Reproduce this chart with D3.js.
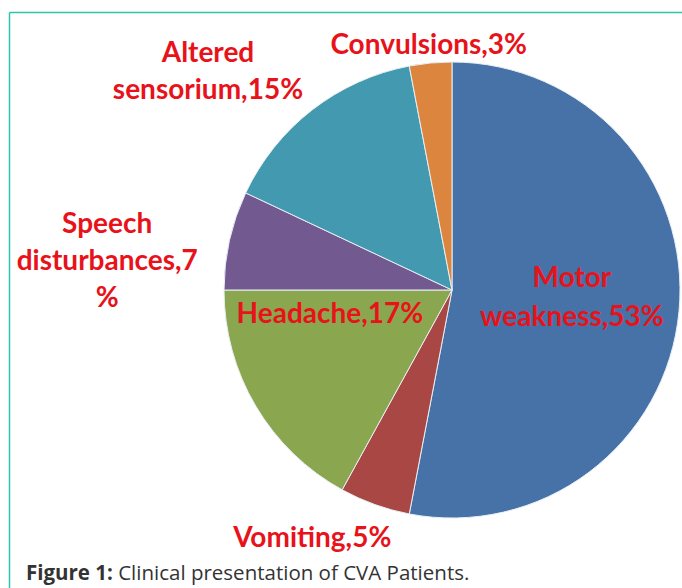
<!DOCTYPE html>
<html>
<head>
<meta charset="utf-8">
<script src="https://cdn.jsdelivr.net/npm/d3@7"></script>
<style>
  body { margin: 0; background: #fff; }
</style>
</head>
<body>
<div id="chart"></div>
<script>
// data (percent of patients), clockwise from 12 o'clock
var categories = ["Motor weakness", "Vomiting", "Headache", "Speech disturbances", "Altered sensorium", "Convulsions"];
var values = [53, 5, 17, 7, 15, 3];
var sliceColors = ["#4672a8", "#a84743", "#8aa64f", "#72598f", "#4299b0", "#dc853e"];
// label lines as printed on the chart
var labelLines = [
  ["Motor", "weakness,53%"],
  ["Vomiting,5%"],
  ["Headache,17%"],
  ["Speech", "disturbances,7", "%"],
  ["Altered", "sensorium,15%"],
  ["Convulsions,3%"]
];

var width = 682, height = 588;
var cx = 452, cy = 290, radius = 228;

var svg = d3.select("#chart")
  .append("svg")
    .attr("width", width)
    .attr("height", height);

// teal frame (top and left edges only)
svg.append("line")
  .attr("x1", 9.5).attr("x2", width).attr("y1", 12.5).attr("y2", 12.5)
  .attr("stroke", "#2ec4ae").attr("stroke-width", 1.5);
svg.append("line")
  .attr("x1", 9.5).attr("x2", 9.5).attr("y1", 12.5).attr("y2", height)
  .attr("stroke", "#2ec4ae").attr("stroke-width", 1.5);

var data = categories.map(function(c, i) {
  return { name: c, value: values[i], color: sliceColors[i], lines: labelLines[i] };
});

var pie = d3.pie()
  .sort(null)
  .value(function(d) { return d.value; });
var arcs = pie(data);

var arc = d3.arc()
  .innerRadius(0)
  .outerRadius(radius);

var g = svg.append("g")
  .attr("transform", "translate(" + cx + "," + cy + ")");

g.selectAll("path")
  .data(arcs)
  .enter()
  .append("path")
  .attr("d", arc)
  .attr("fill", function(d) { return d.data.color; })
  .attr("stroke", "#e8eef4")
  .attr("stroke-width", 1);

// label placement: radius factor, angle nudge (deg) from slice middle, line height
var labelPos = {
  "Motor weakness": { r: 0.527, nudge: -2, line: 39 },
  "Vomiting": { r: 1.245, nudge: 9.7, line: 0 },
  "Headache": { r: 0.545, nudge: 19.9, line: 0 },
  "Speech disturbances": { r: 1.518, nudge: -7.6, line: 37 },
  "Altered sensorium": { r: 1.438, nudge: -10.3, line: 37 },
  "Convulsions": { r: 1.085, nudge: 0, line: 0 }
};

var labels = g.selectAll("text.lbl")
  .data(arcs)
  .enter()
  .append("text")
  .attr("class", "lbl")
  .attr("text-anchor", "middle")
  .style("font-family", "Lato, 'Open Sans', sans-serif")
  .style("font-weight", "bold")
  .style("font-size", "28px")
  .attr("fill", "#e8121a")
  .attr("transform", function(d) {
    var p = labelPos[d.data.name];
    var a = (d.startAngle + d.endAngle) / 2 + p.nudge * Math.PI / 180;
    var x = Math.sin(a) * radius * p.r;
    var y = -Math.cos(a) * radius * p.r;
    return "translate(" + x + "," + y + ")";
  });

labels.each(function(d) {
  var p = labelPos[d.data.name];
  var n = d.data.lines.length;
  var t = d3.select(this);
  d.data.lines.forEach(function(line, i) {
    t.append("tspan")
      .attr("x", 0)
      .attr("y", (i - (n - 1) / 2) * p.line)
      .attr("dy", "0.35em")
      .text(line);
  });
});

// caption
var cap = svg.append("text")
  .attr("x", 26)
  .attr("y", 580)
  .style("font-family", "'Open Sans', sans-serif")
  .style("font-size", "20.5px")
  .attr("fill", "#333");
cap.append("tspan").style("font-weight", "bold").text("Figure 1:");
cap.append("tspan").text(" Clinical presentation of CVA Patients.");
</script>
</body>
</html>
